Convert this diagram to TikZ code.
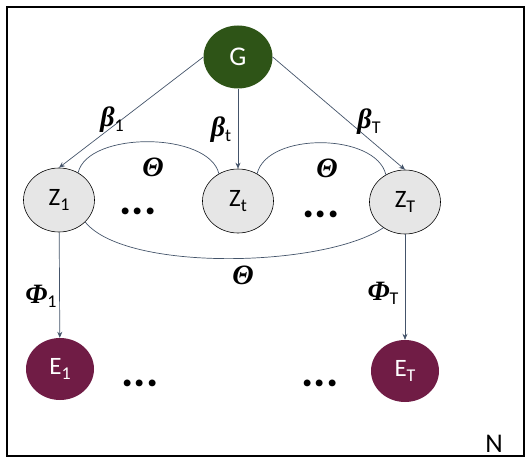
\documentclass[tikz,border=0pt]{standalone}
\usepackage{amsmath}
\usepackage{amssymb}
\usepackage[no-math]{fontspec}
\setmainfont{Carlito}
\newfontfamily\grk{Liberation Serif}
\usetikzlibrary{arrows.meta,positioning,shapes.geometric}

\definecolor{gnode}{HTML}{2E5417}
\definecolor{enode}{HTML}{701C45}
\definecolor{znode}{HTML}{E6E6E6}
\definecolor{edgec}{HTML}{44546A}

\newcommand{\lsub}[1]{\raisebox{-0.35ex}{\fontsize{18}{18}\selectfont #1}}
\newcommand{\gsym}[1]{{\fontsize{28}{30}\selectfont\grk\bfseries\itshape #1}}

\begin{document}
\begin{tikzpicture}[x=1pt, y=-1pt,
  rootvar/.style={ellipse, fill=gnode, text=white, minimum width=69pt, minimum height=63pt, inner sep=0pt, font=\fontsize{27}{29}\selectfont},
  latentvar/.style={ellipse, draw=black, line width=0.6pt, fill=znode, minimum width=71pt, minimum height=64pt, inner sep=0pt, font=\fontsize{25}{27}\selectfont},
  obsvar/.style={ellipse, fill=enode, text=white, minimum width=68pt, minimum height=62pt, inner sep=0pt, font=\fontsize{25}{27}\selectfont},
  flow/.style={-{Stealth[length=6pt,width=5pt]}, line width=0.7pt, color=edgec},
  link/.style={line width=0.7pt, color=edgec},
  lbl/.style={inner sep=0pt, font=\fontsize{25}{27}\selectfont},
  more/.style={inner sep=0pt, font=\fontsize{46}{46}\selectfont\bfseries}
]
  \useasboundingbox (0,0) rectangle (531,460);
  \draw[line width=1.8pt] (7,7) rectangle (524,456);

  \node[rootvar] (G) at (238,57) {G};
  \node[latentvar] (Z1) at (59,200) {Z\lsub{1}};
  \node[latentvar] (Zt) at (238,201) {Z\lsub{t}};
  \node[latentvar] (ZT) at (405,202) {Z\lsub{T}};
  \node[obsvar] (E1) at (60,369) {E\lsub{1}};
  \node[obsvar] (ET) at (405,371) {E\lsub{T}};

  \draw[flow] (G.west) -- (Z1.north);
  \draw[flow] (G) -- (Zt);
  \draw[flow] (G.east) -- (ZT.north);
  \draw[flow] (Z1) -- (E1);
  \draw[flow] (ZT) -- (ET);

  \draw[link] (Z1.55) .. controls +(10,-42) and +(-10,-42) .. (Zt.125);
  \draw[link] (Zt.55) .. controls +(10,-42) and +(-10,-42) .. (ZT.125);
  \draw[link] (Z1.-40) .. controls +(40,50) and +(-60,40) .. (ZT.-130);

  \node[lbl] (b1) at (112,120) {\gsym{β}\lsub{1}};
  \node[lbl] (bt) at (221,130) {\gsym{β}\lsub{t}};
  \node[lbl] (bT) at (369,122) {\gsym{β}\lsub{T}};
  \node[lbl] (th1) at (153,167) {\gsym{Θ}};
  \node[lbl] (th2) at (327,168) {\gsym{Θ}};
  \node[lbl] (th3) at (243,275) {\gsym{Θ}};
  \node[lbl] (f1) at (41,296) {\gsym{Φ}\lsub{1}};
  \node[lbl] (fT) at (383,293) {\gsym{Φ}\lsub{T}};

  \node[more] (d1) at (138,211) {...};
  \node[more] (d2) at (321,214) {...};
  \node[more] (d3) at (140,383) {...};
  \node[more] (d4) at (320,383) {...};

  \node[lbl, font=\fontsize{27}{29}\selectfont] (N) at (494,444) {N};
\end{tikzpicture}
\end{document}
